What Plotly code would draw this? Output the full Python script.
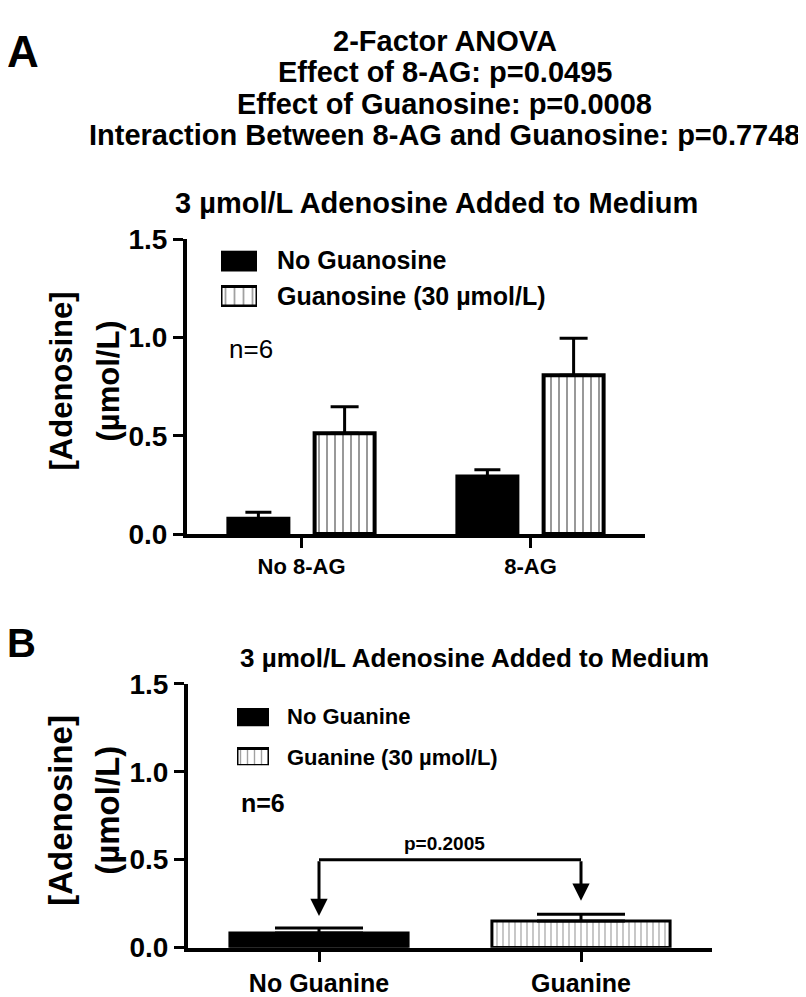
import plotly.graph_objects as go

# ---------------- data ----------------
categories_a = ["No 8-AG", "8-AG"]
series_a_names = ["No Guanosine", "Guanosine (30 µmol/L)"]
no_guanosine = [0.078, 0.293]
no_guanosine_err = [0.033, 0.035]
guanosine = [0.513, 0.809]
guanosine_err = [0.135, 0.188]

categories_b = ["No Guanine", "Guanine"]
series_b_names = ["No Guanine", "Guanine (30 µmol/L)"]
values_b = [0.083, 0.152]
err_b = [0.028, 0.038]
bracket_y = 0.5
arrow_tips_b = [0.18, 0.267]
p_text_b = "p=0.2005"

y_tickvals = [0.0, 0.5, 1.0, 1.5]
y_ticktext = ["0.0", "0.5", "1.0", "1.5"]

anova_lines = [
    "2-Factor ANOVA",
    "Effect of 8-AG: p=0.0495",
    "Effect of Guanosine: p=0.0008",
    "Interaction Between 8-AG and Guanosine: p=0.7748",
]
subtitle = "3 µmol/L Adenosine Added to Medium"
y_title_lines = ["[Adenosine]", "(µmol/L)"]
n_text = "n=6"

# ---------------- helpers ----------------
W, H = 806, 997
FAM = "Liberation Sans, Arial, Helvetica, sans-serif"


def fx(px):
    return px / W


def fy(py):
    return 1 - py / H


def bold(size):
    return dict(family=FAM, size=size, color="black", weight="bold")


fig = go.Figure()

# ---------------- panel A bars ----------------
fig.add_trace(go.Bar(
    x=categories_a, y=no_guanosine, name=series_a_names[0],
    marker=dict(color="black", line=dict(color="black", width=4)),
    error_y=dict(type="data", symmetric=False, array=no_guanosine_err,
                 arrayminus=[0] * len(no_guanosine), color="black",
                 thickness=3, width=13),
    xaxis="x", yaxis="y",
))
fig.add_trace(go.Bar(
    x=categories_a, y=guanosine, name=series_a_names[1],
    marker=dict(color="white", line=dict(color="black", width=4),
                pattern=dict(shape="|", fgcolor="black", bgcolor="white",
                             size=8, solidity=0.2)),
    error_y=dict(type="data", symmetric=False, array=guanosine_err,
                 arrayminus=[0] * len(guanosine), color="black",
                 thickness=3, width=14),
    xaxis="x", yaxis="y",
))

# ---------------- panel B bars ----------------
fig.add_trace(go.Bar(
    x=categories_b, y=values_b, width=0.68,
    marker=dict(color=["black", "white"], line=dict(color="black", width=3),
                pattern=dict(shape=["", "|"], fgcolor="black", bgcolor="white",
                             size=6, solidity=0.2)),
    error_y=dict(type="data", symmetric=False, array=err_b,
                 arrayminus=[0] * len(values_b), color="black",
                 thickness=3, width=44),
    xaxis="x2", yaxis="y2",
))

# ---------------- legend swatches (hidden axes) ----------------
fig.add_trace(go.Bar(
    y=[0, 1], x=[1, 1], orientation="h", width=0.54, cliponaxis=False,
    marker=dict(color=["black", "white"], line=dict(color="black", width=3),
                pattern=dict(shape=["", "|"], fgcolor="black", bgcolor="white",
                             size=9, solidity=0.2)),
    xaxis="x3", yaxis="y3",
))
fig.add_trace(go.Bar(
    y=[0, 1], x=[1, 1], orientation="h", width=0.42, cliponaxis=False,
    marker=dict(color=["black", "white"], line=dict(color="black", width=3),
                pattern=dict(shape=["", "|"], fgcolor="black", bgcolor="white",
                             size=7, solidity=0.2)),
    xaxis="x4", yaxis="y4",
))

axis_common = dict(showgrid=False, zeroline=False, showline=True,
                   linecolor="black", ticks="outside", tickcolor="black")

hidden = dict(visible=False, showgrid=False, zeroline=False, fixedrange=True)

fig.update_layout(
    width=W, height=H,
    margin=dict(l=0, r=0, t=0, b=0),
    paper_bgcolor="white", plot_bgcolor="white",
    showlegend=False,
    barmode="group", bargap=0.247, bargroupgap=0.304,
    font=dict(family=FAM, color="black"),
    xaxis=dict(axis_common, domain=[fx(179), fx(637)], range=[-0.5, 1.5],
               type="category", linewidth=4, ticklen=10, tickwidth=3,
               tickfont=bold(22), anchor="y"),
    yaxis=dict(axis_common, domain=[fy(527.5), fy(223.3)], range=[0, 1.5],
               tickvals=y_tickvals, ticktext=y_ticktext, linewidth=4,
               ticklen=10, tickwidth=3, tickfont=bold(28), anchor="x"),
    xaxis2=dict(axis_common, domain=[fx(180), fx(704)], range=[-0.5, 1.5],
                type="category", linewidth=4, ticklen=10, tickwidth=3,
                tickfont=bold(25), anchor="y2"),
    yaxis2=dict(axis_common, domain=[fy(954.3), fy(682)], range=[0, 1.5],
                tickvals=y_tickvals, ticktext=y_ticktext, linewidth=4,
                ticklen=10, tickwidth=3, tickfont=bold(28), anchor="x2"),
    xaxis3=dict(hidden, domain=[fx(213), fx(249)], range=[0, 1], anchor="y3"),
    yaxis3=dict(hidden, domain=[fy(293), fy(235)], range=[1.297, -0.27], anchor="x3"),
    xaxis4=dict(hidden, domain=[fx(229), fx(261)], range=[0, 1], anchor="y4"),
    yaxis4=dict(hidden, domain=[fy(766), fy(707)], range=[1.2, -0.2], anchor="x4"),
)

ann = []
# Panel letters
ann.append(dict(text="A", x=fx(0), y=fy(29), xanchor="left", yanchor="middle",
                xshift=-3, font=bold(44)))
ann.append(dict(text="B", x=fx(0), y=fy(640), xanchor="left", yanchor="middle",
                xshift=-3, font=bold(40)))
# ANOVA text
anova_y = [19, 51, 84, 116]
for line, yy in zip(anova_lines, anova_y):
    ann.append(dict(text=line, x=fx(437), y=fy(yy), xanchor="center",
                    yanchor="middle", font=bold(29)))
# subtitles
ann.append(dict(text=subtitle, x=fx(428), y=fy(186), xanchor="center",
                yanchor="middle", font=bold(29)))
ann.append(dict(text=subtitle, x=fx(466), y=fy(655), xanchor="center",
                yanchor="middle", font=bold(26)))
# y titles (two rotated lines each)
for cy, size in ((370, 31), (813, 33)):
    for line, cx in zip(y_title_lines, (53, 100)):
        ann.append(dict(text=line, x=fx(cx), y=fy(cy), textangle=-90,
                        xanchor="center", yanchor="middle", font=bold(size)))
# legend texts A
ann.append(dict(text=series_a_names[0], x=fx(267), y=fy(245), xanchor="left",
                yanchor="middle", font=bold(25)))
ann.append(dict(text=series_a_names[1], x=fx(267), y=fy(282), xanchor="left",
                yanchor="middle", font=bold(25)))
# legend texts B
ann.append(dict(text=series_b_names[0], x=fx(277), y=fy(716), xanchor="left",
                yanchor="middle", font=bold(22)))
ann.append(dict(text=series_b_names[1], x=fx(277), y=fy(758), xanchor="left",
                yanchor="middle", font=bold(22)))
# n=6
ann.append(dict(text=n_text, x=fx(219), y=fy(336), xanchor="left",
                yanchor="middle", font=dict(family=FAM, size=26, color="black")))
ann.append(dict(text=n_text, x=fx(231), y=fy(805), xanchor="left",
                yanchor="middle", font=bold(25)))
for a in ann:
    a.update(xref="paper", yref="paper", showarrow=False)

# Panel B bracket arrows
for i, tip in enumerate(arrow_tips_b):
    ann.append(dict(x=i, y=tip, ax=i, ay=bracket_y, xref="x2", yref="y2",
                    axref="x2", ayref="y2", showarrow=True, arrowhead=2,
                    arrowsize=1.15, arrowwidth=3, arrowcolor="black", text="",
                    standoff=0, startstandoff=0))
ann.append(dict(text=p_text_b, x=0.48, y=bracket_y, xref="x2", yref="y2",
                xanchor="center", yanchor="bottom", yshift=4, showarrow=False,
                font=bold(19)))

fig.update_layout(annotations=ann)
fig.add_shape(type="line", xref="x2", yref="y2", x0=0, x1=1,
              y0=bracket_y, y1=bracket_y, line=dict(color="black", width=3))

fig.write_html("out.html")
